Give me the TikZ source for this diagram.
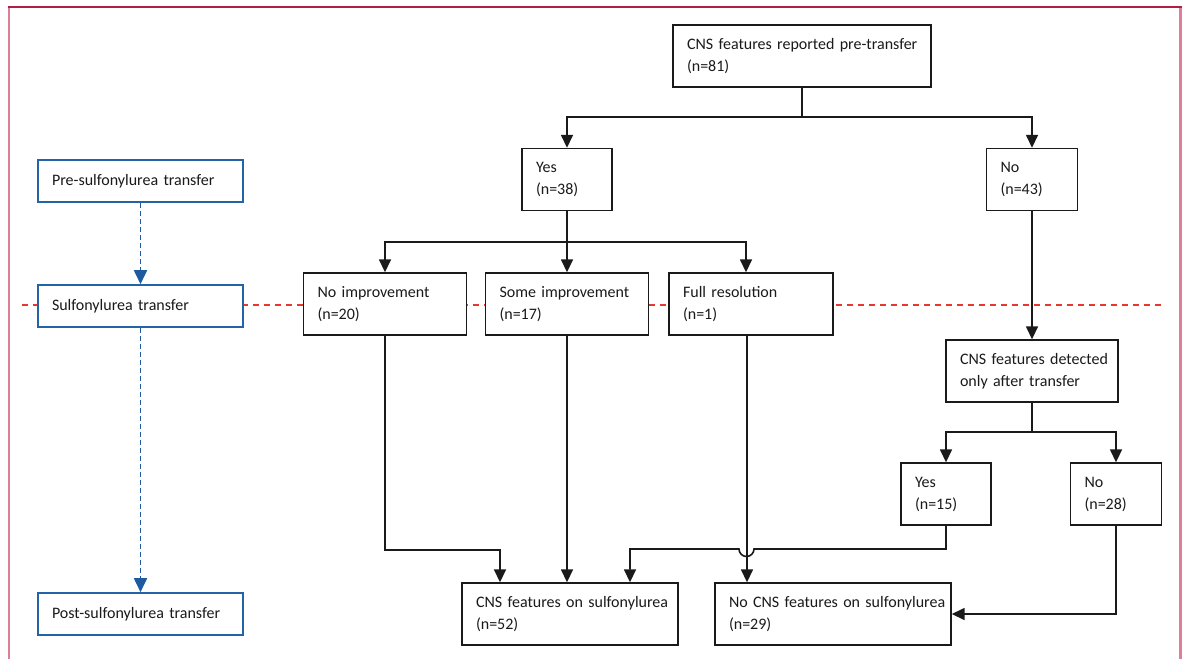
\documentclass[tikz,border=0pt]{standalone}
\usepackage{fontspec}
\setmainfont{Carlito}
\usetikzlibrary{arrows.meta}
\definecolor{framecrim}{HTML}{B21E45}
\definecolor{framepink}{HTML}{DE7F98}
\definecolor{bbox}{HTML}{2463A8}
\definecolor{barrow}{HTML}{1E5AA0}
\definecolor{rdash}{HTML}{E8372C}
\definecolor{ink}{HTML}{1A1A1A}
\newcommand\boxfont{\fontsize{16}{22}\selectfont\hyphenpenalty=10000 \exhyphenpenalty=10000 \hbadness=10000 \hfuzz=50pt }
\tikzset{
  fbox/.style={draw=ink, fill=white, line width=1.4pt, inner xsep=14pt, inner ysep=0pt,
    minimum height=62pt, align=left, text=ink, font=\boxfont},
  bluebox/.style={draw=bbox, fill=white, line width=1.6pt, inner xsep=14pt, inner ysep=0pt,
    minimum height=42pt, align=left, text width=177pt, text=ink, font=\boxfont},
  conn/.style={draw=ink, line width=1.6pt},
  arr/.style={conn, -{Triangle[width=12pt,length=13pt]}},
  barr/.style={draw=barrow, line width=1.8pt, dash pattern=on 5pt off 3pt,
    -{Triangle[width=13pt,length=14pt]}},
  reddash/.style={draw=rdash, line width=1.2pt, dash pattern=on 6pt off 5pt},
}
\begin{document}
\begin{tikzpicture}[x=1pt,y=-1pt]
\useasboundingbox (0,0) rectangle (1185,659);
% frame
\draw[framepink, line width=2pt] (9,7) -- (9,659);
\draw[framepink, line width=3pt] (1180.5,7) -- (1180.5,659);
\draw[framecrim, line width=1.6pt] (8,7) -- (1182,7);
% red dashed stage line
\draw[reddash] (22,305) -- (1163,305);
% left stage boxes
\node[bluebox] (pre) at (140.5,181) {Pre-sulfonylurea transfer};
\node[bluebox] (sul) at (140.5,306) {Sulfonylurea transfer};
\node[bluebox] (post) at (140.5,614) {Post-sulfonylurea transfer};
\draw[barr] (pre.south) -- (sul.north);
\draw[barr] (sul.south) -- (post.north);
% flow boxes
\node[fbox, text width=230pt] (top) at (802,56) {CNS~features~reported~pre-transfer\\(n=81)};
\node[fbox, text width=62pt] (yes) at (567,179.5) {Yes\\(n=38)};
\node[fbox, text width=63pt] (no) at (1032,179.5) {No\\(n=43)};
\node[fbox, text width=135pt] (noimp) at (385,304) {No~improvement\\(n=20)};
\node[fbox, text width=135pt] (someimp) at (567,304) {Some~improvement\\(n=17)};
\node[fbox, text width=136pt] (full) at (751,304) {Full~resolution\\(n=1)};
\node[fbox, text width=144pt] (det) at (1032,371) {CNS~features~detected\\only~after~transfer};
\node[fbox, text width=62pt] (yes15) at (946,494) {Yes\\(n=15)};
\node[fbox, text width=63pt] (no28) at (1116,494) {No\\(n=28)};
\node[fbox, text width=188pt] (cnson) at (570,614) {CNS~features~on~sulfonylurea\\(n=52)};
\node[fbox, text width=208pt] (nocns) at (833,614) {No~CNS~features~on~sulfonylurea\\(n=29)};
% connectors
\coordinate (j1) at (802,117);
\draw[conn] (top.south) -- (j1);
\draw[arr] (j1) -| (yes.north);
\draw[arr] (j1) -| (no.north);
\coordinate (j2) at (567,242);
\draw[conn] (yes.south) -- (j2);
\draw[arr] (j2) -| (noimp.north);
\draw[arr] (j2) -| (someimp.north);
\coordinate (fn) at ([xshift=-5pt]full.north);
\draw[arr] (j2) -| (fn);
\coordinate (fs) at ([xshift=-4pt]full.south);
\draw[arr] (fs) -- (fs |- nocns.north);
\coordinate (k1) at (500,550);
\draw[arr] (noimp.south) |- (k1) -- (k1 |- cnson.north);
\draw[arr] (someimp.south) -- (someimp.south |- cnson.north);
\draw[arr] (no.south) -- (det.north);
\coordinate (j3) at (1032,432);
\draw[conn] (det.south) -- (j3);
\draw[arr] (j3) -| (yes15.north);
\draw[arr] (j3) -| (no28.north);
\coordinate (h1) at (754,549);
\coordinate (k2) at (630,549);
\draw[arr] (yes15.south) |- (h1) arc[start angle=0, end angle=-180, radius=7.5pt] -- (k2) -- (k2 |- cnson.north);
\draw[arr] (no28.south) |- (nocns.east);
\end{tikzpicture}
\end{document}
